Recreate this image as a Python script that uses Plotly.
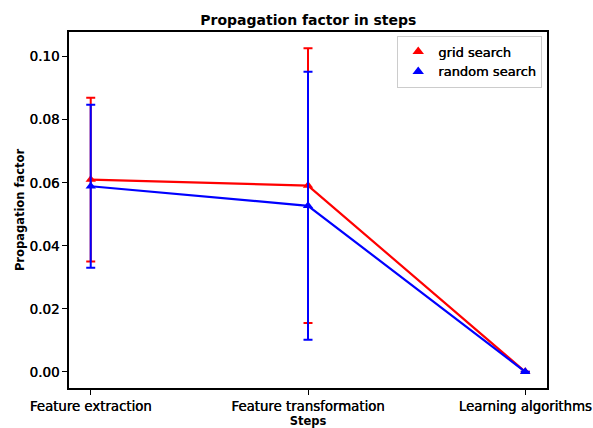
import plotly.graph_objects as go

steps = ["Feature extraction", "Feature transformation", "Learning algorithms"]

grid_mean = [0.0610, 0.0591, 0.0]
grid_err = [0.0260, 0.0436, 0.0]
random_mean = [0.0589, 0.0527, 0.0]
random_err = [0.0259, 0.0425, 0.0]

font = "DejaVu Sans"
thick = "0.35px 0 0 black"

fig = go.Figure()


def add_series(name, mean, err, color):
    fig.add_trace(go.Scatter(
        x=steps, y=mean, mode="lines+markers", name=name,
        line=dict(color=color, width=2.2),
        marker=dict(symbol="triangle-up", size=9, color=color),
        error_y=dict(type="data", array=err, visible=True, color=color,
                     thickness=2, width=4.5),
        showlegend=False,
    ))
    # legend entry: marker only, like matplotlib's errorbar handle
    fig.add_trace(go.Scatter(
        x=[None], y=[None], mode="markers", name=name,
        marker=dict(symbol="triangle-up", size=10, color=color),
    ))


add_series("grid search", grid_mean, grid_err, "#ff0000")
add_series("random search", random_mean, random_err, "#0000ff")

fig.update_layout(
    width=593, height=428,
    margin=dict(l=69, r=46, t=32, b=40),
    paper_bgcolor="white", plot_bgcolor="white",
    font=dict(family=font, size=13, color="black"),
    title=dict(text="<b>Propagation factor in steps</b>", x=0.52, xanchor="center",
               y=0.953, yanchor="middle", font=dict(size=14)),
    legend=dict(x=0.99, y=0.99, xanchor="right", yanchor="top",
                bordercolor="#cccccc", borderwidth=1, bgcolor="white",
                font=dict(size=13, shadow=thick), tracegroupgap=0, itemwidth=30),
)
fig.update_xaxes(
    type="category", range=[-0.1, 2.1], automargin=False,
    showline=True, linecolor="black", linewidth=1.5, mirror=True,
    ticks="outside", ticklen=5, tickwidth=1.2, tickcolor="black",
    tickfont=dict(size=13.3, shadow=thick),
    showgrid=False, zeroline=False,
    title=dict(text="<b>Steps</b>", standoff=2, font=dict(size=11.5)),
)
fig.update_yaxes(
    range=[-0.00513, 0.10785], automargin=False,
    tickvals=[0.0, 0.02, 0.04, 0.06, 0.08, 0.10],
    ticktext=["0.00", "0.02", "0.04", "0.06", "0.08", "0.10"],
    showline=True, linecolor="black", linewidth=1.5, mirror=True,
    ticks="outside", ticklen=5, tickwidth=1.2, tickcolor="black",
    tickfont=dict(size=13.5, shadow=thick),
    showgrid=False, zeroline=False,
    title=dict(text="<b>Propagation factor</b>", standoff=2, font=dict(size=11.5)),
)

# drop the browser's default body margin so the figure sits at the page corner
fig.write_html("out.html", config={"displayModeBar": False},
               post_script="document.body.style.margin='0';")
